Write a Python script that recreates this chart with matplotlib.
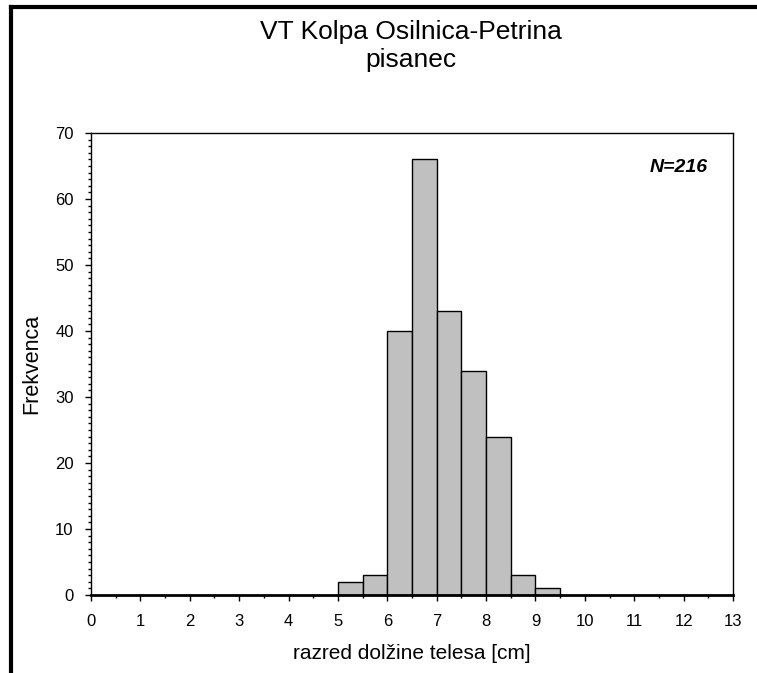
import numpy as np
import matplotlib.pyplot as plt
from matplotlib.lines import Line2D
from matplotlib.ticker import MultipleLocator

plt.rcParams['font.family'] = ['Liberation Sans', 'DejaVu Sans']

# length classes (left edge of each 0.5 cm class) and counts
class_start = [5.0, 5.5, 6.0, 6.5, 7.0, 7.5, 8.0, 8.5, 9.0]
counts = [2, 3, 40, 66, 43, 34, 24, 3, 1]
n_total = sum(counts)

fig = plt.figure(figsize=(7.57, 6.73), dpi=100)
ax = fig.add_axes([91/757, 1 - 595/673, (733 - 91)/757, (595 - 133)/673])

ax.bar(class_start, counts, width=0.5, align='edge',
       color='#c0c0c0', edgecolor='black', linewidth=1.0)

ax.set_xlim(0, 13)
ax.set_ylim(0, 70)
ax.xaxis.set_major_locator(MultipleLocator(1))
ax.xaxis.set_minor_locator(MultipleLocator(0.5))
ax.yaxis.set_major_locator(MultipleLocator(10))
ax.yaxis.set_minor_locator(MultipleLocator(1))
ax.tick_params(which='major', direction='out', length=4.5, width=1, labelsize=12)
ax.tick_params(which='minor', direction='out', length=2.5, width=1)
ax.tick_params(axis='x', which='major', pad=9)
ax.tick_params(axis='y', which='major', pad=8)

for side in ['left', 'top', 'right']:
    ax.spines[side].set_linewidth(1.0)
ax.spines['bottom'].set_linewidth(2.0)

ax.set_xlabel('razred dolžine telesa [cm]', fontsize=15, labelpad=11)
ax.set_ylabel('Frekvenca', fontsize=15.5, labelpad=9)

ax.text(0.961, 0.925, 'N=%d' % n_total, transform=ax.transAxes,
        ha='right', va='center', fontsize=14, fontweight='bold', style='italic')

fig.text(0.543, 1 - 32/673, 'VT Kolpa Osilnica-Petrina', ha='center', va='center', fontsize=19)
fig.text(0.543, 1 - 60/673, 'pisanec', ha='center', va='center', fontsize=19)

# frame lines on the left and top edges of the figure
fig.add_artist(Line2D([11/757, 11/757], [0, 1 - 7/673], color='black', linewidth=3,
                      transform=fig.transFigure))
fig.add_artist(Line2D([11/757, 1], [1 - 7/673, 1 - 7/673], color='black', linewidth=3,
                      transform=fig.transFigure))

fig.savefig('out.png', dpi=100)
